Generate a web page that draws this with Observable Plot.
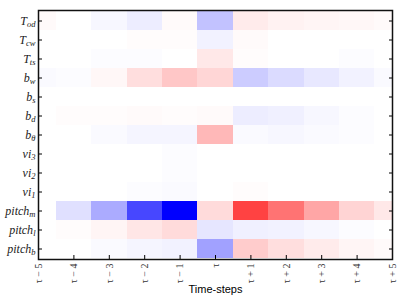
<!DOCTYPE html>
<html><head><meta charset="utf-8">
<script src="https://cdn.jsdelivr.net/npm/d3@7"></script>
<script src="https://cdn.jsdelivr.net/npm/@observablehq/plot@0.6"></script>
<style>body{margin:0;background:#fff} svg{display:block}</style>
</head><body><div id="chart"></div>
<script>
const steps = [-5, -4, -3, -2, -1, 0, 1, 2, 3, 4, 5];
const stepLabels = ["τ − 5", "τ − 4", "τ − 3", "τ − 2", "τ − 1", "τ", "τ + 1", "τ + 2", "τ + 3", "τ + 4", "τ + 5"];
const rowBase = ["T", "T", "T", "b", "b", "b", "b", "vi", "vi", "vi", "pitch", "pitch", "pitch"];
const rowSub = ["od", "cw", "ts", "w", "s", "d", "θ", "3", "2", "1", "m", "l", "b"];

const T_od    = [0.02, 0.00, -0.03, -0.07, 0.02, -0.24, 0.08, 0.05, 0.04, 0.03, 0.02];
const T_cw    = [0.00, 0.00, 0.00, 0.01, 0.01, -0.05, 0.02, 0.00, 0.00, 0.00, 0.00];
const T_ts    = [0.00, 0.00, -0.01, -0.01, 0.00, 0.09, 0.01, 0.00, 0.00, -0.01, 0.00];
const b_w     = [-0.02, -0.01, 0.03, 0.13, 0.22, 0.16, -0.20, -0.14, -0.09, -0.05, -0.02];
const b_s     = [0.00, 0.00, 0.00, 0.00, 0.00, 0.00, 0.00, 0.00, 0.00, 0.00, 0.00];
const b_d     = [0.00, 0.01, 0.01, 0.02, 0.01, 0.02, -0.07, -0.06, -0.03, -0.01, 0.00];
const b_theta = [0.00, 0.00, -0.02, -0.04, -0.04, 0.28, -0.02, -0.03, -0.02, -0.01, 0.00];
const vi_3    = [0.00, 0.00, 0.00, 0.00, -0.01, 0.00, 0.00, 0.00, 0.00, 0.00, 0.00];
const vi_2    = [0.00, 0.00, 0.00, 0.00, -0.01, 0.00, 0.00, 0.00, 0.00, 0.00, 0.00];
const vi_1    = [0.00, 0.00, 0.00, -0.01, -0.02, 0.00, 0.01, 0.00, 0.00, 0.00, 0.00];
const pitch_m = [0.00, -0.12, -0.33, -0.72, -1.00, 0.14, 0.74, 0.55, 0.35, 0.17, 0.09];
const pitch_l = [0.00, 0.01, 0.04, 0.10, 0.14, -0.10, -0.06, -0.05, -0.03, -0.01, 0.00];
const pitch_b = [0.00, 0.00, -0.02, -0.04, -0.05, -0.37, 0.20, 0.13, 0.08, 0.04, 0.02];

const rowValues = [T_od, T_cw, T_ts, b_w, b_s, b_d, b_theta, vi_3, vi_2, vi_1, pitch_m, pitch_l, pitch_b];
const rowKeys = rowBase.map((b, i) => b + "_" + rowSub[i]);
const data = [];
rowValues.forEach((vals, r) => vals.forEach((v, c) => data.push({row: rowKeys[r], step: steps[c], value: v})));

const chart = Plot.plot({
  width: 407,
  height: 305,
  marginLeft: 38,
  marginRight: 15,
  marginTop: 10,
  marginBottom: 46,
  style: {background: "#fff", color: "#000"},
  x: {domain: [-5, 5]},
  y: {domain: rowKeys, padding: 0},
  color: {type: "linear", domain: [-1, 0, 1], range: ["#0000ff", "#ffffff", "#ff0000"], interpolate: "rgb"},
  marks: [
    Plot.barX(data, {x1: d => d.step - 0.5, x2: d => d.step + 0.5, y: "row", fill: "value", inset: 0, clip: true, shapeRendering: "crispEdges"}),
    Plot.axisY({anchor: "left", label: null, tickSize: -4, tickPadding: 7, fontSize: 12, tickFormat: d => d}),
    Plot.axisY({anchor: "right", label: null, tickSize: -4, tickFormat: () => ""}),
    Plot.axisX({anchor: "bottom", ticks: steps, tickSize: -4, tickPadding: 8, tickRotate: -90, fontSize: 10,
      tickFormat: d => stepLabels[steps.indexOf(d)], label: "Time-steps", labelAnchor: "center", labelArrow: "none", labelOffset: 33}),
    Plot.frame({stroke: "#111", strokeWidth: 1.5})
  ]
});
document.getElementById("chart").appendChild(chart);

const svg = d3.select(chart);
svg.selectAll("g[aria-label='y-axis tick label'] text").each(function() {
  const t = d3.select(this);
  const key = t.text();
  const i = rowKeys.indexOf(key);
  if (i < 0) return;
  t.text(null)
    .style("font-family", "'Liberation Serif', 'DejaVu Serif', serif")
    .style("font-style", "italic")
    .style("font-weight", "normal")
    .attr("fill", "#222");
  t.append("tspan").text(rowBase[i]);
  t.append("tspan").attr("font-size", "8.5").attr("dy", "0.3em").text(rowSub[i]);
});
svg.selectAll("g[aria-label='x-axis tick label'] text")
  .style("font-family", "'Liberation Serif', 'DejaVu Serif', serif").attr("fill", "#333");
svg.selectAll("g[aria-label='x-axis label'] text")
  .style("font-family", "'Liberation Sans', Arial, sans-serif").attr("font-size", 11);
</script></body></html>
